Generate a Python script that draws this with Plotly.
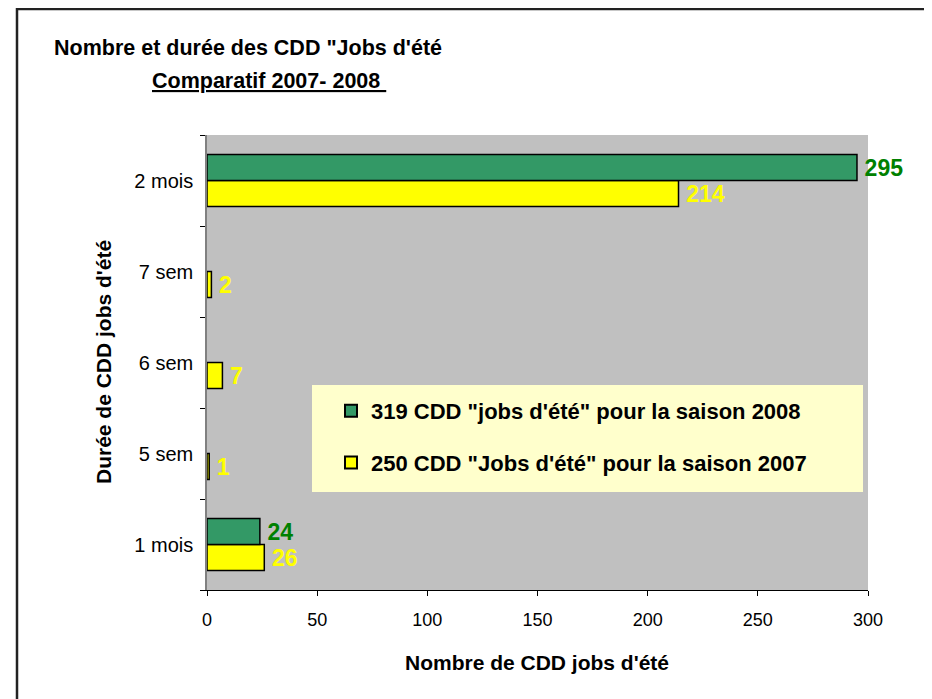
import plotly.graph_objects as go

categories = ["1 mois", "5 sem", "6 sem", "7 sem", "2 mois"]
values_2007 = [26, 1, 7, 2, 214]
values_2008 = [24, None, None, None, 295]
name_2008 = "319 CDD \"jobs d'été\" pour la saison 2008"
name_2007 = "250 CDD \"Jobs d'été\" pour la saison 2007"
x_ticks = [0, 50, 100, 150, 200, 250, 300]

FONT = "Liberation Sans, Arial, sans-serif"
W, H = 932, 699
OFF = 8  # page body margin
L, R, T, B = 207 - OFF, 868 - OFF, 135 - OFF, 590 - OFF

def px_x(p):
    return (p - OFF - L) / (R - L)

def px_y(p):
    return (B - (p - OFF)) / (B - T)

def labels(vals):
    return [str(v) if v else "" for v in vals]

fig = go.Figure()
fig.add_trace(go.Bar(
    y=categories, x=values_2007, orientation="h", name=name_2007,
    marker=dict(color="#FFFF00", line=dict(color="#000000", width=1.5)),
    text=labels(values_2007), texttemplate="\u2009%{text}", textposition="outside",
    outsidetextfont=dict(family=FONT, size=24, color="#FFFF00", weight="bold"),
    cliponaxis=False, legendrank=2, legendgroup="g2007",
))
fig.add_trace(go.Bar(
    y=categories, x=values_2008, orientation="h", name=name_2008,
    marker=dict(color="#339966", line=dict(color="#000000", width=1.5)),
    text=labels(values_2008), texttemplate="\u2009%{text}", textposition="outside",
    outsidetextfont=dict(family=FONT, size=24, color="#008000", weight="bold"),
    cliponaxis=False, legendrank=1, legendgroup="g2008",
))

fig.update_layout(
    width=W, height=H,
    margin=dict(l=L, r=W - R, t=T, b=H - B, autoexpand=False),
    paper_bgcolor="#FFFFFF", plot_bgcolor="#C0C0C0",
    barmode="group", bargap=0.43, bargroupgap=0,
    font=dict(family=FONT, color="#000000"),
    showlegend=True,
    legend=dict(
        x=px_x(331), y=px_y(390), xanchor="left", yanchor="top",
        bgcolor="rgba(0,0,0,0)", traceorder="grouped", tracegroupgap=20,
        itemsizing="constant",
        font=dict(family=FONT, size=22, color="#000000", weight="bold"),
    ),
    xaxis=dict(
        range=[0, 300], tickvals=x_ticks, showgrid=False, zeroline=False,
        showline=True, linecolor="#000000", linewidth=1,
        ticks="outside", ticklen=5, tickcolor="#000000",
        tickfont=dict(family=FONT, size=18), ticklabelstandoff=8, fixedrange=True,
    ),
    yaxis=dict(
        categoryorder="array", categoryarray=categories,
        showgrid=False, zeroline=False, showline=True, linecolor="#808080", linewidth=1.5,
        ticks="outside", ticklen=5, tickcolor="#000000", tickson="boundaries",
        tickfont=dict(family=FONT, size=20), ticklabelstandoff=8, fixedrange=True,
    ),
    shapes=[
        dict(type="rect", xref="paper", yref="paper",
             x0=px_x(312), x1=px_x(863), y0=px_y(492), y1=px_y(385),
             fillcolor="#FFFFCC", line=dict(width=0), layer="below"),
        dict(type="rect", xref="paper", yref="paper",
             x0=px_x(17), x1=px_x(980), y0=px_y(740), y1=px_y(9),
             fillcolor="rgba(0,0,0,0)", line=dict(color="#222222", width=2.5), layer="above"),
    ],
    annotations=[
        dict(text="<b>Nombre et durée des CDD \"Jobs d'été</b>", xref="paper", yref="paper",
             x=px_x(52), y=px_y(48), xanchor="left", yanchor="middle", showarrow=False,
             font=dict(family=FONT, size=21.5)),
        dict(text="<b><u>Comparatif 2007- 2008\u00a0</u></b>", xref="paper", yref="paper",
             x=px_x(150), y=px_y(81), xanchor="left", yanchor="middle", showarrow=False,
             font=dict(family=FONT, size=21.5)),
        dict(text="<b>Nombre de CDD jobs d'été</b>", xref="paper", yref="paper",
             x=px_x(537), y=px_y(662), xanchor="center", yanchor="middle", showarrow=False,
             font=dict(family=FONT, size=21)),
        dict(text="<b>Durée de CDD jobs d'été</b>", xref="paper", yref="paper",
             x=px_x(103), y=px_y(362), xanchor="center", yanchor="middle", showarrow=False,
             textangle=-90, font=dict(family=FONT, size=21)),
    ],
)

fig.write_html("out.html")
